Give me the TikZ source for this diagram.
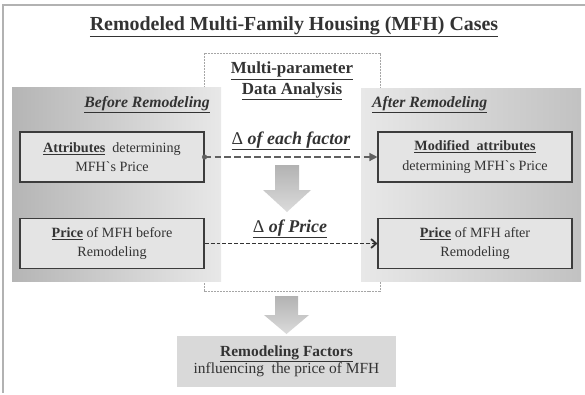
\documentclass[tikz,border=0pt]{standalone}
\usepackage{fontspec}
\setmainfont{Liberation Serif}
\usetikzlibrary{arrows.meta}
\definecolor{txt}{HTML}{333333}
\definecolor{boxline}{HTML}{3C3C3C}
\definecolor{boxfill}{HTML}{E4E4E4}
\newcommand{\tick}{\textasciigrave}
\tikzset{
  panelL/.style={left color=gray!58, right color=gray!18, draw=none},
  panelR/.style={left color=gray!18, right color=gray!48, draw=none},
  infobox/.style={draw=boxline, line width=1.1pt, fill=boxfill, minimum width=184bp, minimum height=50bp, inner sep=0pt, align=center, text=txt, font=\fontsize{14.2}{19.5}\selectfont},
  heading/.style={text=txt, font=\fontsize{15.8}{18}\selectfont\bfseries\itshape, inner sep=0pt},
  deltalabel/.style={text=txt, font=\fontsize{18}{20}\selectfont\bfseries\itshape, inner sep=0pt},
  dashbox/.style={draw=gray!70, dash pattern=on 2pt off 1pt, line width=0.6pt},
  flowA/.style={draw=gray!75!black, line width=1.3pt, dash pattern=on 6.5pt off 3.5pt, -{Triangle[length=8pt,width=8pt]}},
  flowB/.style={draw=gray!40!black, line width=1.8pt, dash pattern=on 4pt off 2pt, -{Straight Barb[length=5pt,width=9pt]}},
  blockarrow/.style={top color=gray!60, bottom color=gray!28, draw=none},
}
\begin{document}
\begin{tikzpicture}[x=1bp,y=-1bp]
\useasboundingbox (0,0) rectangle (585,394);
% outer frame
\draw[gray!60, line width=1.2pt] (3,393) -- (3,5) -- (585,5);
% title
\node[text=txt, font=\fontsize{20}{22}\selectfont\bfseries, inner sep=0pt] (title) at (294,27) {\underline{Remodeled Multi-Family Housing (MFH) Cases}};
% dashed analysis box
\draw[dashbox] (204,53) rectangle (380,291);
\node[align=center, text=gray!40!black, font=\fontsize{17}{20.5}\selectfont\bfseries, inner sep=0pt] (mpda) at (292,81) {\underline{Multi-parameter}\\\underline{Data Analysis}};
% panels
\shade[panelL] (12,87) rectangle (221,281);
\shade[panelR] (361,88) rectangle (581,281);
\node[heading, anchor=east] (before) at (210,105) {\underline{Before Remodeling}};
\node[heading, anchor=west] (after) at (372,105) {\underline{After Remodeling}};
% boxes
\node[infobox] (attr) at (112,157) {\underline{\textbf{Attributes}}\ \ determining\\MFH\tick s Price};
\node[infobox] (pbefore) at (112,243.5) {\underline{\textbf{Price}} of MFH before\\Remodeling};
\node[infobox, minimum width=194bp] (mod) at (475,157) {\underline{\textbf{Modified\ \ attributes}}\\determining MFH\tick s Price};
\node[infobox, minimum width=194bp] (pafter) at (475,243.5) {\underline{\textbf{Price}} of MFH after\\Remodeling};
% connectors
\fill[gray!75!black] (attr.east) circle (2.6bp);
\draw[flowA] (attr.east) -- (mod.west);
\draw[flowB] (pbefore.east) -- (pafter.west);
\node[deltalabel] (dfac) at (291,141) {\underline{{\mdseries\upshape Δ} of each factor}};
\node[deltalabel] (dprice) at (290,229) {\underline{{\mdseries\upshape Δ} of Price}};
% block arrows
\shade[blockarrow] (275,165) -- (299,165) -- (299,190) -- (311,190) -- (287,212) -- (263,190) -- (275,190) -- cycle;
\shade[blockarrow] (275,296) -- (298,296) -- (298,315) -- (309,315) -- (286.5,334) -- (264,315) -- (275,315) -- cycle;
% result box
\node[fill=gray!30, minimum width=219bp, minimum height=51bp, inner sep=0pt, align=center, text=txt, font=\fontsize{15.5}{17.5}\selectfont] (result) at (286.5,361.5) {\underline{\textbf{Remodeling Factors}}\\influencing\ \ the price of MFH};
\end{tikzpicture}
\end{document}
